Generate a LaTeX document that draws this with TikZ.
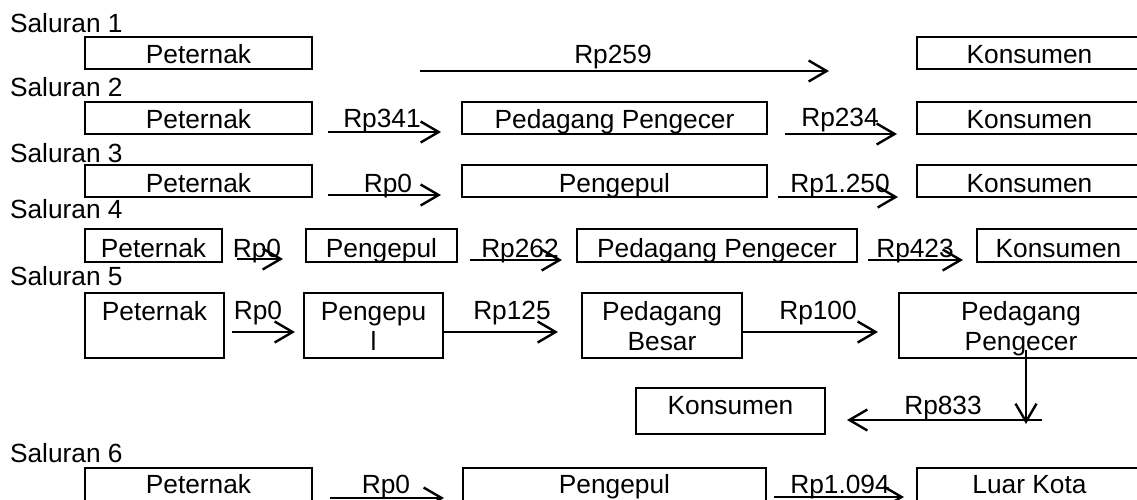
\documentclass[tikz,border=0pt]{standalone}
\usepackage{fontspec}
\setmainfont{Liberation Sans}
\usetikzlibrary{arrows.meta}
% \mkbox[options]{name}{x1}{y1}{x2}{y2}{text}: framed box from corner to corner
\newcommand\mkbox[7][]{\node[box,#1,minimum width={#5-#3},minimum height={#6-#4}] (#2) at ({(#3+#5)/2},{(#4+#6)/2}) {#7};}
\begin{document}
\begin{tikzpicture}[x=1pt,y=-1pt,
  every node/.style={font=\fontsize{26.3}{30}\selectfont},
  box/.style={draw,line width=2.4pt,inner sep=0pt,outer sep=0pt,text height=20pt,text depth=0pt},
  lbl/.style={anchor=base,inner sep=0pt,outer sep=0pt},
  title/.style={anchor=base west,inner sep=0pt,outer sep=0pt},
  flow/.style={line width=2.4pt,-{Straight Barb[length=18pt,width=21pt]}}]
\useasboundingbox (0,0) rectangle (1137,499);

% channel titles
\node[title] (s1) at (10,32)  {Saluran 1};
\node[title] (s2) at (10,96)  {Saluran 2};
\node[title] (s3) at (10,162) {Saluran 3};
\node[title] (s4) at (10,218) {Saluran 4};
\node[title] (s5) at (10,285) {Saluran 5};
\node[title] (s6) at (10,462) {Saluran 6};

% channel 1
\mkbox{p1}{85}{37}{312}{69}{Peternak}
\mkbox{k1}{917}{37}{1142}{69}{Konsumen}
\draw[flow] ([shift={(108,2)}]p1.south east) -- ([shift={(-88,2)}]k1.south west);
\node[lbl] (r259) at (613,63) {Rp259};

% channel 2
\mkbox{p2}{85}{102}{312}{134}{Peternak}
\mkbox{e2}{462}{102}{767}{134}{Pedagang Pengecer}
\mkbox{k2}{917}{102}{1142}{134}{Konsumen}
\draw[flow] ([shift={(16,-2)}]p2.south east) -- ([shift={(-21,-2)}]e2.south west);
\draw[flow] ([shift={(18,0)}]e2.south east) -- ([shift={(-20,0)}]k2.south west);
\node[lbl] (r341) at (382,127) {Rp341};
\node[lbl] (r234) at (840,126) {Rp234};

% channel 3
\mkbox[text height=22pt]{p3}{85}{165}{312}{197}{Peternak}
\mkbox[text height=22pt]{g3}{462}{165}{767}{197}{Pengepul}
\mkbox[text height=22pt]{k3}{917}{165}{1142}{197}{Konsumen}
\draw[flow] ([shift={(16,-2)}]p3.south east) -- ([shift={(-21,-2)}]g3.south west);
\draw[flow] ([shift={(11,0)}]g3.south east) -- ([shift={(-19,0)}]k3.south west);
\node[lbl] (r30) at (388,192) {Rp0};
\node[lbl] (r1250) at (840,192) {Rp1.250};

% channel 4
\mkbox[text height=24pt]{p4}{85}{229}{222}{262}{Peternak}
\mkbox[text height=24pt]{g4}{306}{229}{457}{262}{Pengepul}
\mkbox[text height=24pt]{e4}{577}{229}{857}{262}{Pedagang Pengecer}
\mkbox[text height=24pt]{k4}{977}{229}{1140}{262}{Konsumen}
\draw[flow] ([shift={(15,-3)}]p4.south east) -- ([shift={(-23,-3)}]g4.south west);
\draw[flow] ([shift={(13,-2)}]g4.south east) -- ([shift={(-15,-2)}]e4.south west);
\draw[flow] ([shift={(11,-2)}]e4.south east) -- ([shift={(-14,-2)}]k4.south west);
\node[lbl] (r40) at (257,257) {Rp0};
\node[lbl] (r262) at (520,257) {Rp262};
\node[lbl] (r423) at (915,257) {Rp423};

% channel 5
\mkbox{p5}{85}{293}{224}{358}{}
\mkbox{g5}{304}{293}{443}{358}{}
\mkbox{b5}{582}{293}{742}{358}{}
\mkbox{e5}{899}{293}{1143}{358}{}
\mkbox[text depth=12.6pt,text height=18.6pt]{k5}{636}{388}{825}{434}{Konsumen}
\node[lbl] (p5t)  at (154.5,320) {Peternak};
\node[lbl] (g5t)  at (373.5,320) {Pengepu};
\node[lbl] (g5u)  at (373.5,350) {l};
\node[lbl] (b5t)  at (662,320)   {Pedagang};
\node[lbl] (b5u)  at (662,350)   {Besar};
\node[lbl] (e5t)  at (1021,320)  {Pedagang};
\node[lbl] (e5u)  at (1021,350)  {Pengecer};
\draw[flow] ([shift={(8,-26)}]p5.south east) -- ([shift={(-9,-26)}]g5.south west);
\draw[flow] ([shift={(0,-26)}]g5.south east) -- ([shift={(-24,-26)}]b5.south west);
\draw[flow] ([shift={(0,-26)}]b5.south east) -- ([shift={(-21,-26)}]e5.south west);
\node[lbl] (r50) at (258,319) {Rp0};
\node[lbl] (r125) at (512,319) {Rp125};
\node[lbl] (r100) at (818,319) {Rp100};
\coordinate (c833) at (1042,420);
\draw[flow] ([shift={(5,-8)}]e5.south) -- ([shift={(-16,4)}]c833);
\draw[flow] (c833) -- ([shift={(22,9)}]k5.east);
\node[lbl] (r833) at (943,414) {Rp833};

% channel 6
\mkbox[text height=17pt]{p6}{85}{468}{312}{501}{Peternak}
\mkbox[text height=17pt]{g6}{463}{468}{766}{501}{Pengepul}
\mkbox[text height=17pt]{l6}{917}{468}{1142}{501}{Luar Kota}
\draw[flow] ([shift={(18,30)}]p6.north east) -- ([shift={(-19,30)}]g6.north west);
\draw[flow] ([shift={(8,29)}]g6.north east) -- ([shift={(-13,29)}]l6.north west);
\node[lbl] (r60) at (386,493) {Rp0};
\node[lbl] (r1094) at (840,493) {Rp1.094};
\end{tikzpicture}
\end{document}
